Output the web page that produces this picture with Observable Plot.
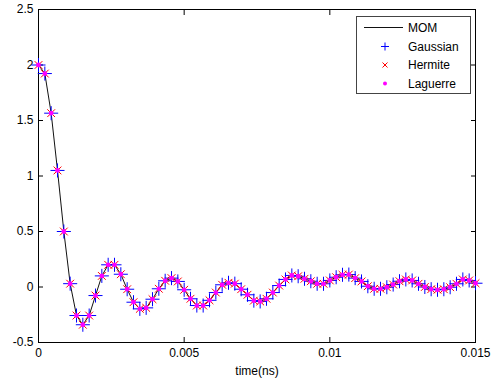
<!DOCTYPE html>
<html>
<head>
<meta charset="utf-8">
<script src="https://cdn.jsdelivr.net/npm/d3@7"></script>
<script src="https://cdn.jsdelivr.net/npm/@observablehq/plot@0.6"></script>
<style>
  body { margin: 0; background: #fff; }
  #wrap { position: relative; width: 498px; height: 380px; font-family: "Liberation Sans", Arial, sans-serif; }
  #legend { position: absolute; left: 356px; top: 16px; width: 113px; height: 76px; border: 1px solid #444; background: #fff; }
  #legend svg { position: absolute; left: 0; top: 0; }
</style>
</head>
<body>
<div id="wrap"></div>
<script>
const seriesValues = [
  2.0, 1.923, 1.566, 1.05, 0.50, 0.03, -0.257, -0.34, -0.257, -0.077,
  0.10, 0.20, 0.20, 0.115, -0.02, -0.137, -0.197, -0.188, -0.11, -0.016,
  0.056, 0.08, 0.05, -0.025, -0.106, -0.167, -0.167, -0.12, -0.05, 0.02,
  0.038, 0.03, -0.02, -0.07, -0.123, -0.13, -0.106, -0.05, 0.013, 0.068,
  0.104, 0.097, 0.074, 0.052, 0.029, 0.029, 0.059, 0.088, 0.11, 0.112,
  0.08, 0.05, 0.007, -0.016, -0.016, -0.002, 0.022, 0.052, 0.068, 0.059,
  0.029, 0.0, -0.02, -0.025, -0.02, -0.002, 0.029, 0.068, 0.059, 0.034
];
const tEnd = 0.015;
const timeValues = seriesValues.map((_, i) => i * tEnd / (seriesValues.length - 1));
const xTicks = [0, 0.005, 0.01, 0.015];
const xTickLabels = ["0", "0.005", "0.01", "0.015"];
const yTicks = [-0.5, 0, 0.5, 1, 1.5, 2, 2.5];
const yTickLabels = ["-0.5", "0", "0.5", "1", "1.5", "2", "2.5"];
const seriesNames = ["MOM", "Gaussian", "Hermite", "Laguerre"];

const data = timeValues.map((t, i) => ({t, v: seriesValues[i]}));
const xFmt = d => xTickLabels[xTicks.indexOf(d)] ?? "";
const yFmt = d => yTickLabels[yTicks.indexOf(d)] ?? "";
const blank = () => "";

const chart = Plot.plot({
  width: 498, height: 380,
  marginLeft: 38, marginRight: 23, marginTop: 9, marginBottom: 38,
  style: {fontFamily: "'Liberation Sans', Arial, sans-serif", fontSize: "12px", color: "#000", background: "#fff"},
  x: {domain: [0, 0.015]},
  y: {domain: [-0.5, 2.5]},
  marks: [
    Plot.axisX({ticks: xTicks, tickFormat: xFmt, tickSize: 0, tickPadding: 6, label: "time(ns)", labelAnchor: "center", labelArrow: "none", labelOffset: 32}),
    Plot.axisX({ticks: xTicks, tickFormat: blank, tickSize: 5, dy: -5, label: null, stroke: "#000"}),
    Plot.axisX({anchor: "top", ticks: xTicks, tickFormat: blank, tickSize: 5, dy: 5, label: null, stroke: "#000"}),
    Plot.axisY({ticks: yTicks, tickFormat: yFmt, tickSize: 0, tickPadding: 5, label: null}),
    Plot.axisY({ticks: yTicks, tickFormat: blank, tickSize: 5, dx: 5, label: null, stroke: "#000"}),
    Plot.axisY({anchor: "right", ticks: yTicks, tickFormat: blank, tickSize: 5, dx: -5, label: null, stroke: "#000"}),
    Plot.frame({stroke: "#000"}),
    Plot.line(data, {x: "t", y: "v", stroke: "#111", strokeWidth: 1}),
    Plot.dot(data, {x: "t", y: "v", symbol: "plus", r: 4.6, stroke: "#0000ff", strokeWidth: 1}),
    Plot.dot(data, {x: "t", y: "v", symbol: "times", r: 3.6, stroke: "#ff0000", strokeWidth: 1}),
    Plot.dot(data, {x: "t", y: "v", r: 2.4, fill: "#ff00ff", stroke: "none"})
  ]
});
const wrap = document.getElementById("wrap");
wrap.appendChild(chart);

// Legend overlay
const lg = document.createElement("div");
lg.id = "legend";
const ns = "http://www.w3.org/2000/svg";
const svg = document.createElementNS(ns, "svg");
svg.setAttribute("width", 113); svg.setAttribute("height", 76);
const rowY = [10.5, 29.5, 48, 66.5];
seriesNames.forEach((name, i) => {
  const y = rowY[i];
  const cx = 28;
  if (i === 0) {
    const l = document.createElementNS(ns, "line");
    l.setAttribute("x1", 7); l.setAttribute("x2", 46); l.setAttribute("y1", y); l.setAttribute("y2", y);
    l.setAttribute("stroke", "#111"); svg.appendChild(l);
  } else if (i === 1) {
    const p = document.createElementNS(ns, "path");
    p.setAttribute("d", `M${cx-4},${y}H${cx+4}M${cx},${y-4}V${y+4}`);
    p.setAttribute("stroke", "#0000ff"); svg.appendChild(p);
  } else if (i === 2) {
    const p = document.createElementNS(ns, "path");
    p.setAttribute("d", `M${cx-2.5},${y-2.5}L${cx+2.5},${y+2.5}M${cx-2.5},${y+2.5}L${cx+2.5},${y-2.5}`);
    p.setAttribute("stroke", "#ff0000"); svg.appendChild(p);
  } else {
    const c = document.createElementNS(ns, "circle");
    c.setAttribute("cx", cx); c.setAttribute("cy", y); c.setAttribute("r", 2);
    c.setAttribute("fill", "#ff00ff"); svg.appendChild(c);
  }
  const t = document.createElementNS(ns, "text");
  t.setAttribute("x", 51); t.setAttribute("y", y); t.setAttribute("dy", "0.35em");
  t.setAttribute("font-size", "12px"); t.setAttribute("fill", "#000");
  t.textContent = name;
  svg.appendChild(t);
});
lg.appendChild(svg);
wrap.appendChild(lg);
</script>
</body>
</html>
